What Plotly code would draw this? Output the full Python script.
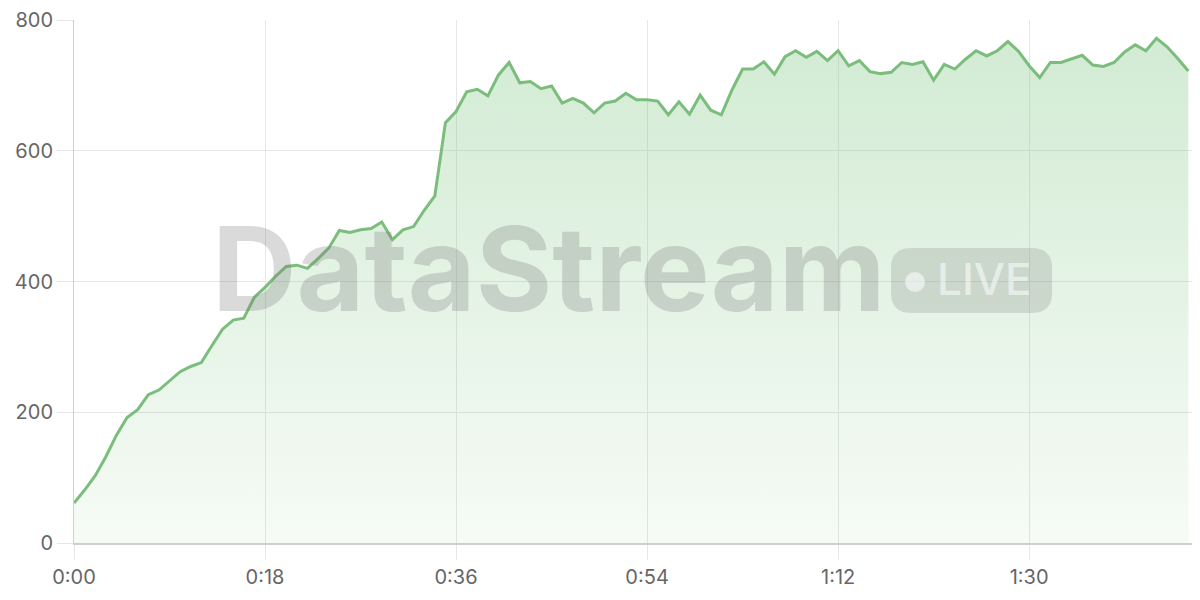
import plotly.graph_objects as go

# one sample per second, 0:00 .. 1:45
seconds = list(range(106))
viewers = [
    61, 81, 103, 132, 165, 192, 204, 227, 234, 248,
    262, 270, 276, 302, 327, 341, 344, 376, 391, 408,
    423, 425, 420, 435, 451, 478, 475, 479, 481, 491,
    464, 479, 484, 509, 531, 643, 660, 690, 694, 684,
    716, 735, 704, 706, 695, 699, 673, 680, 673, 658,
    673, 676, 688, 678, 678, 676, 655, 675, 656, 685,
    662, 655, 693, 725, 725, 736, 717, 744, 753, 743,
    752, 738, 753, 730, 738, 721, 718, 720, 735, 732,
    736, 708, 732, 725, 740, 753, 745, 753, 767, 752,
    730, 712, 735, 735, 740, 746, 731, 729, 735, 751,
    762, 753, 772, 759, 741, 722,
]
tick_vals = [0, 18, 36, 54, 72, 90]
tick_text = ["0:00", "0:18", "0:36", "0:54", "1:12", "1:30"]
y_ticks = [0, 200, 400, 600, 800]

GREEN = "#7bbd7c"
GRID = "#e6e6e6"
AXIS = "#cfcfcf"
FONT = "Inter, Roboto, sans-serif"
MARK = "rgba(120,120,120,0.27)"

fig = go.Figure()
fig.add_trace(go.Scatter(
    x=seconds,
    y=viewers,
    mode="lines",
    line=dict(color=GREEN, width=3),
    fill="tozeroy",
    fillgradient=dict(
        type="vertical",
        start=0,
        stop=780,
        colorscale=[[0, "rgba(129,199,132,0.07)"], [1, "rgba(129,199,132,0.36)"]],
    ),
    hoverinfo="skip",
))

# watermark: "DataStream" + rounded LIVE badge
fig.add_annotation(
    text="<b>DataStream</b>", xref="paper", yref="paper",
    x=0.121, y=0.524, xanchor="left", yanchor="middle", showarrow=False,
    font=dict(family=FONT, size=117, color=MARK),
)
fig.add_shape(
    type="path", xref="paper", yref="paper",
    path=("M 0.7435 0.564 L 0.8505 0.564 Q 0.8686 0.564 0.8686 0.526 "
          "L 0.8686 0.478 Q 0.8686 0.440 0.8505 0.440 L 0.7435 0.440 "
          "Q 0.7256 0.440 0.7256 0.478 L 0.7256 0.526 Q 0.7256 0.564 0.7435 0.564 Z"),
    fillcolor="rgba(120,120,120,0.22)", line=dict(width=0), layer="above",
)
fig.add_shape(
    type="circle", xref="paper", yref="paper",
    x0=0.738, x1=0.7558, y0=0.480, y1=0.518,
    fillcolor="rgba(255,255,255,0.55)", line=dict(width=0), layer="above",
)
fig.add_annotation(
    text="LIVE", xref="paper", yref="paper",
    x=0.809, y=0.505, xanchor="center", yanchor="middle", showarrow=False,
    font=dict(family=FONT, size=44, weight=500, color="rgba(255,255,255,0.55)"),
)

# page body adds an 8px margin, so size/margins are offset by it
fig.update_layout(
    width=1192, height=592,
    margin=dict(l=66, r=0, t=12, b=57),
    paper_bgcolor="white",
    plot_bgcolor="white",
    showlegend=False,
    font=dict(family=FONT, size=20, color="#666666"),
)
fig.update_xaxes(
    range=[0, 106.1],
    tickvals=tick_vals, ticktext=tick_text,
    showgrid=True, gridcolor=GRID, gridwidth=1,
    ticks="outside", ticklen=15, tickcolor=GRID,
    showline=True, linecolor=AXIS, linewidth=2,
    zeroline=False,
)
fig.update_yaxes(
    range=[0, 800],
    tickvals=y_ticks,
    showgrid=True, gridcolor=GRID, gridwidth=1,
    ticks="outside", ticklen=16, tickcolor=GRID,
    showline=True, linecolor=AXIS, linewidth=1,
    zeroline=False,
)

fig.write_html("out.html")
